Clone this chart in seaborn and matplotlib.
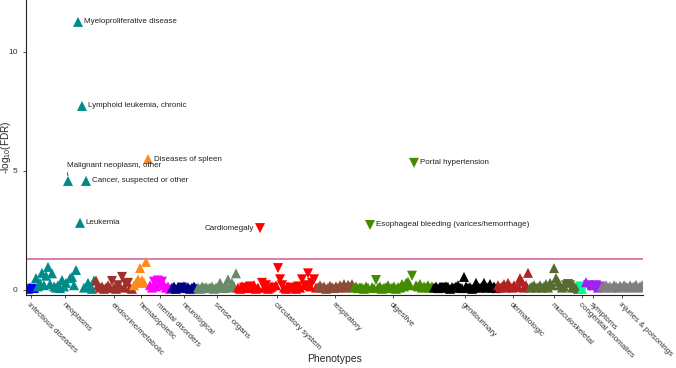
import numpy as np
import pandas as pd
import matplotlib
matplotlib.use("Agg")
import matplotlib.pyplot as plt
import seaborn as sns

# -----------------------------------------------------------------------------
# DATA: -log10(FDR) per phenotype, in phecode order within each category.
# Sign gives effect direction (+ = up triangle, - = down triangle).
# -----------------------------------------------------------------------------
categories = [
    "infectious diseases", "neoplasms", "endocrine/metabolic", "hematopoietic",
    "mental disorders", "neurological", "sense organs", "circulatory system",
    "respiratory", "digestive", "genitourinary", "dermatologic",
    "musculoskeletal", "congenital anomalies", "symptoms", "injuries & poisonings",
]

infectious = [0.05, 0.1, -0.05, 0.08]
neoplasms = [0.5, 0.15, 0.3, 0.72, 0.2, 0.6, 0.97, 0.25, 0.7, 0.15,
             0.1, 0.2, 0.08, 0.42, 0.15, 0.3, 4.58, 0.5, 0.55, 0.2,
             0.84, 11.26, 2.82, 7.73, 0.1, 4.58, 0.3, 0.12, 0.05, 0.4]
endocrine = [0.4, 0.2, 0.1, 0.15, 0.05, 0.1, 0.2, 0.1, -0.38, 0.1,
             0.05, -0.2, 0.15, -0.55, 0.1, -0.25, -0.3, 0.1, 0.05]
hematopoietic = [0.2, 0.3, 0.45, 0.92, 0.42, 0.3, 1.18, 5.5]
mental = [0.2, 0.1, -0.35, 0.15, -0.4, 0.3, -0.35, 0.2, 0.1, 0.15, 0.05]
neurological = [0.1, 0.15, 0.05, 0.12, 0.1, -0.1, 0.15, 0.08, 0.12, 0.05,
                0.1, 0.15, 0.08]
sense_organs = [0.1, 0.05, 0.15, 0.1, 0.12, 0.08, 0.1, 0.15, 0.05, 0.1,
                0.12, 0.3, 0.1, 0.08, 0.2, 0.45, 0.1, 0.3, 0.15, 0.7]
circulatory = [0.1, 0.05, 0.15, -0.1, 0.12, 0.08, -0.15, 0.1, 0.2, 0.05,
               0.1, -2.6, -0.3, 0.1, -0.2, 0.05, 0.1, 0.15, -0.1, 0.2,
               -0.92, -0.45, -0.2, 0.1, 0.05, 0.15, -0.1, 0.1, 0.12, 0.05,
               -0.15, 0.1, -0.45, 0.2, -0.2, -0.7, 0.15, -0.3, -0.45, 0.1]
respiratory = [0.12, 0.2, 0.1, 0.15, 0.05, 0.1, 0.18, 0.12, 0.08, 0.15,
               0.1, 0.2, 0.12, 0.25, 0.1, 0.22, 0.15, 0.25]
digestive = [0.1, 0.15, 0.08, 0.12, 0.1, 0.05, 0.15, 0.1, -2.73, 0.12,
             0.08, -0.42, 0.1, 0.15, 0.05, 0.1, 0.12, 0.2, 0.08, 0.1,
             0.15, 0.05, 0.12, 0.1, 0.25, 0.15, 0.3, 0.35, 0.2, -0.6,
             -5.34, 0.2, 0.15, 0.25, 0.1, 0.15, 0.12, 0.2, 0.1, 0.15]
genitourinary = [0.1, 0.15, 0.08, 0.12, 0.1, -0.1, 0.15, 0.1, 0.05, 0.12,
                 0.1, 0.15, 0.2, 0.1, 0.08, 0.55, 0.15, 0.1, 0.12, 0.05,
                 0.1, 0.3, 0.12, 0.1, 0.15, 0.3, 0.1, 0.12, 0.25, 0.1,
                 0.15, 0.08]
dermatologic = [0.2, 0.1, 0.15, 0.25, 0.1, 0.3, 0.15, 0.1, 0.2, 0.12,
                0.15, 0.5, 0.35, 0.1, 0.2, 0.72]
musculoskeletal = [0.1, 0.15, 0.2, 0.1, 0.12, 0.2, 0.1, 0.15, 0.25, 0.1,
                   0.3, 0.2, 0.92, 0.5, 0.35, 0.2, 0.1, 0.15, -0.2, -0.25,
                   -0.2, 0.1, 0.15, 0.1, 0.05]
congenital = [-0.15, 0.05, -0.1]
symptoms = [0.33, -0.2, -0.15, 0.2, -0.15, -0.2, 0.1, -0.15]
injuries = [0.15, 0.1, 0.2, 0.12, 0.15, 0.1, 0.2, 0.15, 0.1, 0.18,
            0.12, 0.2, 0.15, 0.1, 0.2, 0.12, 0.15, 0.22, 0.1, 0.15, 0.2]

all_values = [infectious, neoplasms, endocrine, hematopoietic, mental,
              neurological, sense_organs, circulatory, respiratory, digestive,
              genitourinary, dermatologic, musculoskeletal, congenital,
              symptoms, injuries]

# labelled phenotypes: (category, index within category, label)
labelled = [
    ("neoplasms", 21, "Myeloproliferative disease"),
    ("neoplasms", 23, "Lymphoid leukemia, chronic"),
    ("hematopoietic", 7, "Diseases of spleen"),
    ("neoplasms", 16, "Malignant neoplasm, other"),
    ("neoplasms", 25, "Cancer, suspected or other"),
    ("neoplasms", 22, "Leukemia"),
    ("circulatory system", 11, "Cardiomegaly"),
    ("digestive", 30, "Portal hypertension"),
    ("digestive", 8, "Esophageal bleeding (varices/hemorrhage)"),
]

palette = {
    "infectious diseases": "#0000FF", "neoplasms": "#008B8B",
    "endocrine/metabolic": "#A0302A", "hematopoietic": "#FF8C1A",
    "mental disorders": "#FF00FF", "neurological": "#000080",
    "sense organs": "#698B69", "circulatory system": "#FF0000",
    "respiratory": "#8B4C39", "digestive": "#458B00",
    "genitourinary": "#000000", "dermatologic": "#B22222",
    "musculoskeletal": "#556B2F", "congenital anomalies": "#00FA9A",
    "symptoms": "#A020F0", "injuries & poisonings": "#7F7F7F",
}

# -----------------------------------------------------------------------------
# BUILD TABLE
# -----------------------------------------------------------------------------
rows = []
pos = 0
for cat, vals in zip(categories, all_values):
    for k, v in enumerate(vals):
        rows.append({"category": cat, "idx": k, "pos": pos,
                     "logp": abs(v), "direction": "up" if v >= 0 else "down"})
        pos += 1
df = pd.DataFrame(rows)
tick_pos = df.groupby("category", sort=False)["pos"].mean()

# -----------------------------------------------------------------------------
# PLOT
# -----------------------------------------------------------------------------
sns.set_theme(style="ticks")
plt.rcParams["font.family"] = ["Liberation Sans", "DejaVu Sans"]
plt.rcParams["mathtext.fontset"] = "custom"
plt.rcParams["mathtext.rm"] = "Liberation Sans"
plt.rcParams["mathtext.it"] = "Liberation Sans"

fig = plt.figure(figsize=(6.76, 3.68), dpi=100)
ax = fig.add_axes([26 / 676, 73 / 368, (643 - 26) / 676, 295 / 368])

ax.axhline(-np.log10(0.05), color="#D36A9E", lw=1.2, zorder=1)

sns.scatterplot(data=df, x="pos", y="logp", hue="category", style="direction",
                markers={"up": "^", "down": "v"}, palette=palette,
                s=52, linewidth=0, legend=False, ax=ax, zorder=2)

txt = dict(fontsize=5.8, color="#222222")
for cat, k, label in labelled:
    r = df[(df["category"] == cat) & (df["idx"] == k)].iloc[0]
    if label == "Cardiomegaly":
        ax.annotate(label, (r["pos"], r["logp"]), xytext=(-4.5, 0),
                    textcoords="offset points", ha="right", va="center", **txt)
    elif label == "Malignant neoplasm, other":
        ax.annotate(label, (r["pos"], r["logp"] + 0.22), xytext=(-0.8, 4.5),
                    textcoords="offset points", ha="left", va="bottom",
                    arrowprops=dict(arrowstyle="-", lw=0.6, color="#222222",
                                    shrinkA=0, shrinkB=0, relpos=(0.0, 0.0)),
                    **txt)
    else:
        ax.annotate(label, (r["pos"], r["logp"]), xytext=(4, 0),
                    textcoords="offset points", ha="left", va="center", **txt)

ax.set_xlim(-1, 307.5)
ax.set_ylim(-0.21, 12.18)
ax.set_yticks([0, 5, 10])
ax.set_xticks(tick_pos.values)
ax.set_xticklabels(tick_pos.index, rotation=-45, ha="left", va="top",
                   rotation_mode="anchor", fontsize=5.8, color="#333333")
ax.tick_params(axis="y", labelsize=6, colors="#333333", length=2.5, width=0.6)
ax.tick_params(axis="x", length=2.5, width=0.6, pad=2)
for s in ["left", "bottom"]:
    ax.spines[s].set_linewidth(0.8)
    ax.spines[s].set_color("#222222")
sns.despine(ax=ax)

ax.set_xlabel("Phenotypes", fontsize=7.5, labelpad=-4)
ax.set_ylabel(r"-log$_{10}$(FDR)", fontsize=7.2)
ax.yaxis.set_label_coords(-0.021, 0.5)

fig.savefig("out.png", dpi=100)
